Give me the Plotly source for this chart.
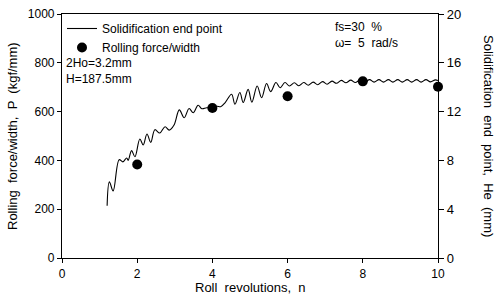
import plotly.graph_objects as go

# Solidification end point He (mm) vs roll revolutions (wavy line, right axis)
line_n = [1.20, 1.26, 1.36, 1.52, 1.62, 1.72, 1.76, 1.85, 1.94, 2.07, 2.16, 2.26, 2.36, 2.47,
          2.60, 2.74, 2.85, 2.98, 3.12, 3.25, 3.38, 3.49, 3.62, 3.72, 3.85, 4.00, 4.12, 4.22,
          4.34, 4.51, 4.60, 4.73, 4.82, 4.95, 5.05, 5.19, 5.31, 5.44, 5.55, 5.69, 5.80, 5.93,
          6.05, 6.18, 6.30, 6.43, 6.55, 6.68, 6.80, 6.93, 7.05, 7.18, 7.30, 7.43, 7.55, 7.68,
          7.80, 7.93, 8.05, 8.18, 8.30, 8.43, 8.55, 8.68, 8.80, 8.93, 9.05, 9.18, 9.30, 9.43,
          9.55, 9.68, 9.80, 9.93, 10.00]
line_he = [4.28, 6.24, 5.50, 8.06, 7.88, 8.20, 8.00, 8.80, 8.30, 9.76, 9.26, 10.16, 9.48, 10.52,
           10.24, 10.76, 10.48, 10.90, 12.14, 11.50, 12.26, 11.90, 12.52, 12.24, 12.32, 12.30, 12.44, 12.40,
           12.74, 13.42, 12.60, 13.56, 12.74, 13.82, 12.78, 14.10, 13.14, 14.30, 13.64, 14.38, 13.96, 14.38,
           14.10, 14.36, 14.12, 14.38, 14.16, 14.42, 14.20, 14.46, 14.24, 14.50, 14.32, 14.56, 14.36, 14.58,
           14.38, 14.60, 14.40, 14.62, 14.42, 14.62, 14.42, 14.62, 14.42, 14.62, 14.42, 14.62, 14.42, 14.62,
           14.42, 14.62, 14.44, 14.60, 14.54]

# Rolling force/width P (kgf/mm), left axis
force_n = [2, 4, 6, 8, 10]
force_p = [383, 615, 663, 724, 702]

x_ticks = [0, 2, 4, 6, 8, 10]
y_left_ticks = [0, 200, 400, 600, 800, 1000]
y_right_ticks = [0, 4, 8, 12, 16, 20]

FONT = "Liberation Sans, Arial, sans-serif"

fig = go.Figure()
fig.add_trace(go.Scatter(
    x=line_n, y=line_he, mode="lines", name="Solidification end point",
    line=dict(color="black", width=1.1, shape="spline", smoothing=1.0),
    yaxis="y2"))
fig.add_trace(go.Scatter(
    x=force_n, y=force_p, mode="markers", name="Rolling force/width",
    marker=dict(color="black", size=10), cliponaxis=False))

fig.update_layout(
    width=496, height=296,
    margin=dict(l=62, r=58, t=14, b=38, autoexpand=False),
    paper_bgcolor="white", plot_bgcolor="white",
    font=dict(family=FONT, size=12, color="black"),
    showlegend=True,
    legend=dict(x=0.0, y=1.0, xanchor="left", yanchor="top",
                bgcolor="rgba(0,0,0,0)", font=dict(size=12),
                tracegroupgap=0, itemwidth=30),
    xaxis=dict(range=[0, 10], tickvals=x_ticks, showline=True, linecolor="black",
               linewidth=1.2, mirror=True, ticks="outside", ticklen=4, tickcolor="black",
               showgrid=False, zeroline=False, tickfont=dict(size=12), automargin=False),
    yaxis=dict(range=[0, 1000], tickvals=y_left_ticks, showline=True, linecolor="black",
               linewidth=1.2, ticks="outside", ticklen=4, tickcolor="black",
               showgrid=False, zeroline=False, tickfont=dict(size=12), automargin=False),
    yaxis2=dict(range=[0, 20], tickvals=y_right_ticks, overlaying="y", side="right",
                showline=True, linecolor="black", linewidth=1.2, ticks="outside",
                ticklen=5, tickcolor="black", showgrid=False, zeroline=False,
                tickfont=dict(size=13), automargin=False),
)

# axis titles
fig.add_annotation(xref="paper", yref="paper", x=0.5, y=0, yshift=-20,
                   text="Roll  revolutions,  n", showarrow=False, font=dict(size=13),
                   xanchor="center", yanchor="top")
fig.add_annotation(xref="paper", yref="paper", x=0, y=0.5, xshift=-50,
                   text="Rolling  force/width,  P  (kgf/mm)", textangle=-90,
                   showarrow=False, font=dict(size=13), xanchor="center", yanchor="middle")
fig.add_annotation(xref="paper", yref="paper", x=1.0, y=0.5, xshift=51,
                   text="Solidification  end  point,  He  (mm)", textangle=90,
                   showarrow=False, font=dict(size=13), xanchor="center", yanchor="middle")
# parameter notes
fig.add_annotation(xref="paper", yref="paper", x=0.005, y=0.837, xanchor="left", yanchor="top",
                   text="2Ho=3.2mm<br>H=187.5mm", align="left", showarrow=False,
                   font=dict(size=12))
fig.add_annotation(xref="paper", yref="paper", x=0.72, y=0.985, xanchor="left", yanchor="top",
                   text="fs=30  %<br>ω=  5  rad/s", align="left", showarrow=False,
                   font=dict(size=12))

fig.write_html("out.html", config={"displayModeBar": False},
               post_script="document.body.style.margin='0px';document.body.style.overflow='hidden';")
